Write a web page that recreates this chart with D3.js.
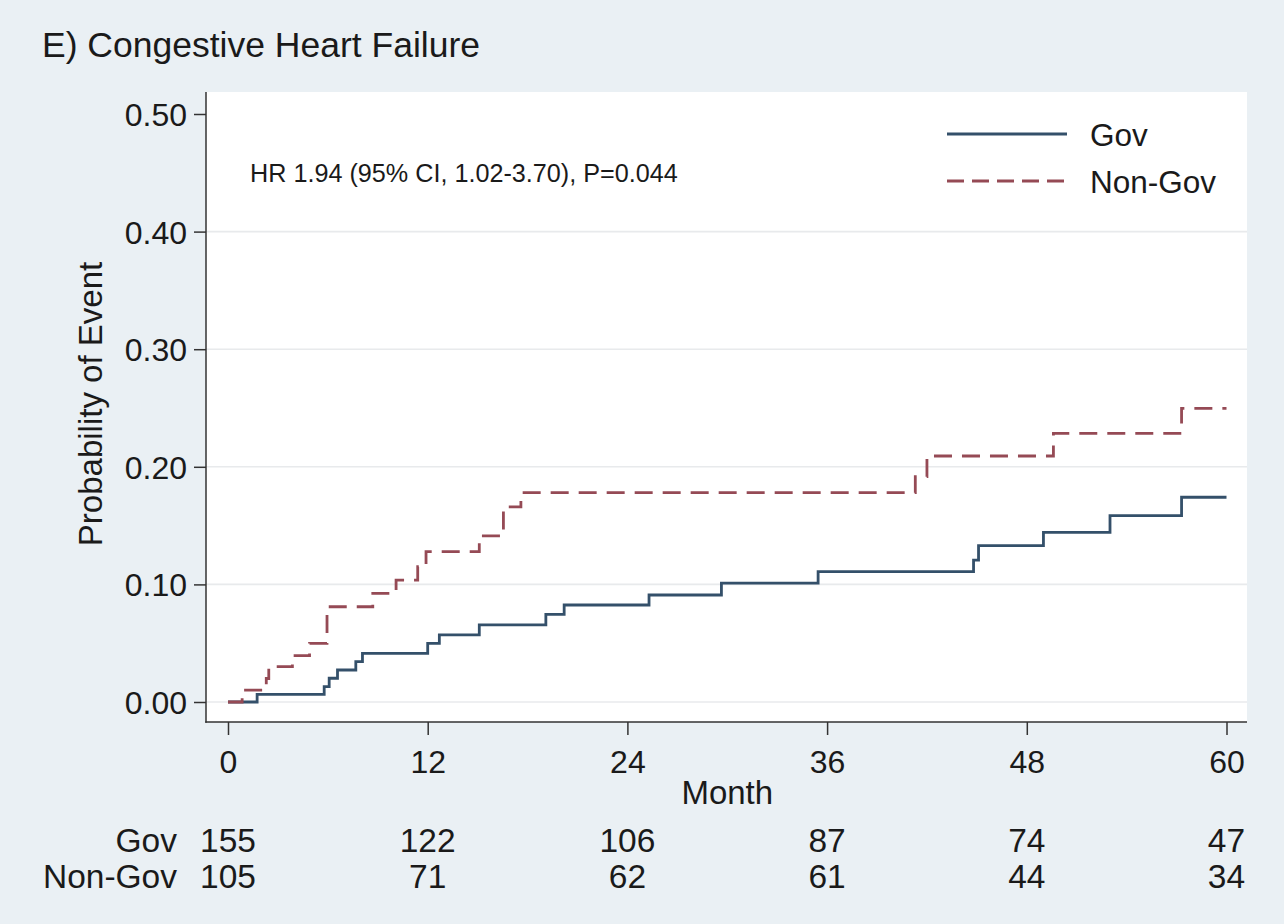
<!DOCTYPE html>
<html>
<head>
<meta charset="utf-8">
<script src="https://cdn.jsdelivr.net/npm/d3@7"></script>
<style>
  html, body { margin: 0; padding: 0; background: #eaf0f4; }
  svg { display: block; }
  text { font-family: "Liberation Sans", Arial, sans-serif; fill: #1a1a1a; }
</style>
</head>
<body>
<svg id="chart" width="1284" height="924"></svg>
<script>
// ---- Data ----
const title = "E) Congestive Heart Failure";
const annotation = "HR 1.94 (95% CI, 1.02-3.70), P=0.044";
const seriesNames = ["Gov", "Non-Gov"];
const xTicks = [0, 12, 24, 36, 48, 60];
const yTicks = [0, 0.1, 0.2, 0.3, 0.4, 0.5];
const xLabel = "Month";
const yLabel = "Probability of Event";

// step curves: [month, cumulative probability]
const govSteps = [
  [0, 0], [1.75, 0.0065], [5.78, 0.013], [6.08, 0.0202], [6.58, 0.0272],
  [7.68, 0.0343], [8.08, 0.0414], [12.0, 0.0499], [12.7, 0.057], [15.1, 0.0655],
  [19.1, 0.0745], [20.2, 0.0825], [25.3, 0.091], [29.65, 0.101], [35.46, 0.1108],
  [44.8, 0.1207], [45.1, 0.1329], [49.0, 0.1443], [53.0, 0.1584], [57.3, 0.1741],
  [60, 0.1741]
];
const nonGovSteps = [
  [0, 0], [0.85, 0.0101], [2.3, 0.020], [2.45, 0.030], [3.87, 0.0394],
  [4.9, 0.0499], [5.95, 0.081], [8.7, 0.0924], [10.1, 0.1037], [11.4, 0.115],
  [11.9, 0.1278], [15.1, 0.1412], [16.55, 0.166], [17.6, 0.178], [41.3, 0.1916],
  [42.0, 0.2092], [49.6, 0.2285], [57.3, 0.2497], [60, 0.2497]
];

// numbers at risk
const riskGov = [155, 122, 106, 87, 74, 47];
const riskNonGov = [105, 71, 62, 61, 44, 34];

// ---- Layout ----
const svg = d3.select("#chart");
const W = 1284, H = 924;
const plot = { left: 206, right: 1247, top: 92, bottom: 722 };
const x = d3.scaleLinear().domain([0, 60]).range([228, 1226.5]);
const y = d3.scaleLinear().domain([0, 0.5]).range([702, 114]);

const colors = { gov: "#34506a", nongov: "#954a55" };
const font = '"Liberation Sans", Arial, sans-serif';

svg.append("rect").attr("width", W).attr("height", H).attr("fill", "#eaf0f4");
svg.append("rect")
  .attr("x", plot.left).attr("y", plot.top)
  .attr("width", plot.right - plot.left).attr("height", plot.bottom - plot.top)
  .attr("fill", "#ffffff");

// gridlines
svg.append("g").selectAll("line")
  .data(yTicks.filter(d => d < 0.5))
  .join("line")
  .attr("x1", plot.left).attr("x2", plot.right)
  .attr("y1", d => y(d)).attr("y2", d => y(d))
  .attr("stroke", "#e8eaec").attr("stroke-width", 1.6);

// title
svg.append("text").attr("x", 42).attr("y", 57)
  .attr("font-size", 35.5).text(title);

// y axis
const yAxis = d3.axisLeft(y).tickValues(yTicks).tickFormat(d3.format(".2f"))
  .tickSize(12).tickPadding(7).tickSizeOuter(0);
const gy = svg.append("g").attr("transform", `translate(${plot.left},0)`).call(yAxis);
gy.select(".domain").remove();
gy.selectAll(".tick line").attr("stroke", "#333").attr("stroke-width", 1.5);
gy.selectAll(".tick text").attr("font-size", 32).attr("font-family", font)
  .attr("fill", "#1a1a1a").attr("dy", "0.36em");

// x axis
const xAxis = d3.axisBottom(x).tickValues(xTicks).tickFormat(d3.format("d"))
  .tickSize(13).tickPadding(15).tickSizeOuter(0);
const gx = svg.append("g").attr("transform", `translate(0,${plot.bottom})`).call(xAxis);
gx.select(".domain").remove();
gx.selectAll(".tick line").attr("stroke", "#333").attr("stroke-width", 1.5);
gx.selectAll(".tick text").attr("font-size", 32).attr("font-family", font)
  .attr("fill", "#1a1a1a").attr("dy", 0).attr("y", 51);

// axis lines
svg.append("line").attr("x1", plot.left).attr("x2", plot.left)
  .attr("y1", plot.top).attr("y2", plot.bottom + 0.75)
  .attr("stroke", "#333").attr("stroke-width", 1.5);
svg.append("line").attr("x1", plot.left - 0.75).attr("x2", plot.right)
  .attr("y1", plot.bottom).attr("y2", plot.bottom)
  .attr("stroke", "#333").attr("stroke-width", 1.5);

// axis titles
svg.append("text").attr("x", (x(0) + x(60)) / 2).attr("y", 804)
  .attr("text-anchor", "middle").attr("font-size", 33).text(xLabel);
svg.append("text")
  .attr("transform", `translate(102,${(plot.top + plot.bottom) / 2 - 3}) rotate(-90)`)
  .attr("text-anchor", "middle").attr("font-size", 33).text(yLabel);

// curves
const line = d3.line().x(d => x(d[0])).y(d => y(d[1])).curve(d3.curveStepAfter);
svg.append("path").datum(govSteps).attr("d", line)
  .attr("fill", "none").attr("stroke", colors.gov).attr("stroke-width", 2.8);
svg.append("path").datum(nonGovSteps).attr("d", line)
  .attr("fill", "none").attr("stroke", colors.nongov).attr("stroke-width", 2.8)
  .attr("stroke-dasharray", "18,10");

// annotation
svg.append("text").attr("x", 250).attr("y", 182)
  .attr("font-size", 25.2).text(annotation);

// legend
const legend = svg.append("g");
const legendItems = [
  { name: seriesNames[0], color: colors.gov, dash: null, y: 134 },
  { name: seriesNames[1], color: colors.nongov, dash: "17,8", y: 181 }
];
legendItems.forEach(it => {
  legend.append("line").attr("x1", 947).attr("x2", 1067)
    .attr("y1", it.y).attr("y2", it.y)
    .attr("stroke", it.color).attr("stroke-width", 2.8)
    .attr("stroke-dasharray", it.dash);
  legend.append("text").attr("x", 1090).attr("y", it.y + 12)
    .attr("font-size", 31.5).text(it.name);
});

// risk table
const riskRows = [
  { name: seriesNames[0], vals: riskGov, y: 852 },
  { name: seriesNames[1], vals: riskNonGov, y: 888 }
];
riskRows.forEach(r => {
  svg.append("text").attr("x", 177).attr("y", r.y)
    .attr("text-anchor", "end").attr("font-size", 33.5).text(r.name);
  svg.append("g").selectAll("text").data(r.vals).join("text")
    .attr("x", (d, i) => x(xTicks[i])).attr("y", r.y)
    .attr("text-anchor", "middle").attr("font-size", 33.5).text(d => d);
});
</script>
</body>
</html>
